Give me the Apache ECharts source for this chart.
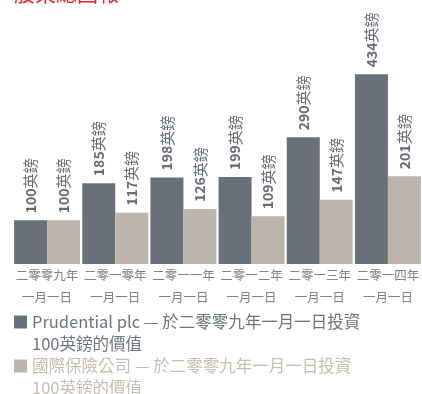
<!DOCTYPE html>
<html>
<head>
<meta charset="utf-8">
<script src="https://cdn.jsdelivr.net/npm/echarts@6/dist/echarts.min.js"></script>
<style>
  html, body { margin: 0; padding: 0; background: #fff; }
  #chart { width: 422px; height: 394px; }
</style>
</head>
<body>
<div id="chart"></div>
<script>
// data
const categories = ['二零零九年\n一月一日', '二零一零年\n一月一日', '二零一一年\n一月一日', '二零一二年\n一月一日', '二零一三年\n一月一日', '二零一四年\n一月一日']
const prudential = [100, 185, 198, 199, 290, 434]
const insurers = [100, 117, 126, 109, 147, 201]
const seriesNames = [
  'Prudential plc — 於二零零九年一月一日投資\n100英鎊的價值',
  '國際保險公司 — 於二零零九年一月一日投資\n100英鎊的價值'
]

const darkColor = '#6a7079'
const lightColor = '#bdb5ab'
const cjk = '"Noto Sans CJK TC", "Noto Sans", sans-serif'

const valueLabel = {
  show: true,
  position: 'top',
  rotate: 90,
  align: 'left',
  verticalAlign: 'middle',
  distance: 7,
  formatter: p => '{n|' + p.value + '}{u|英鎊}',
  rich: {
    n: { fontSize: 14, fontWeight: 'bold', color: '#666c75', fontFamily: cjk },
    u: { fontSize: 15, color: '#666c75', fontFamily: cjk }
  }
}

// legend text is two lines; an empty first row pushes line one level with the icon
function legendFor (name, color, top) {
  return {
    data: [name],
    left: 14,
    top: top,
    padding: 0,
    orient: 'vertical',
    icon: 'rect',
    itemWidth: 13,
    itemHeight: 13,
    selectedMode: false,
    formatter: n => '{s| }\n' + n.split('\n').map(l => '{a|' + l + '}').join('\n'),
    textStyle: {
      rich: {
        s: { fontSize: 10, lineHeight: 22 },
        a: { color: color, fontSize: 16.5, lineHeight: 22, fontFamily: cjk }
      }
    }
  }
}

const chart = echarts.init(document.getElementById('chart'))
chart.setOption({
  animation: false,
  title: {
    text: '股東總回報',
    left: 14,
    top: -17,
    padding: 0,
    textStyle: { color: '#e3262b', fontSize: 21, fontWeight: 'normal', fontFamily: cjk }
  },
  legend: [
    legendFor(seriesNames[0], '#6e747c', 295),
    legendFor(seriesNames[1], '#c4bdb4', 339)
  ],
  grid: { left: 13, top: 0, width: 413, height: 264, containLabel: false },
  xAxis: {
    type: 'category',
    data: categories,
    axisLine: { show: false },
    axisTick: { show: false },
    axisLabel: {
      interval: 0,
      margin: 0,
      color: '#7d828a',
      fontSize: 12.5,
      lineHeight: 22,
      fontFamily: cjk
    }
  },
  yAxis: { type: 'value', show: false, min: 0, max: 604 },
  series: [
    {
      name: seriesNames[0],
      type: 'bar',
      data: prudential,
      barWidth: 33,
      barGap: '0%',
      itemStyle: { color: darkColor },
      label: valueLabel
    },
    {
      name: seriesNames[1],
      type: 'bar',
      data: insurers,
      barWidth: 33,
      itemStyle: { color: lightColor },
      label: valueLabel
    }
  ]
})
</script>
</body>
</html>
